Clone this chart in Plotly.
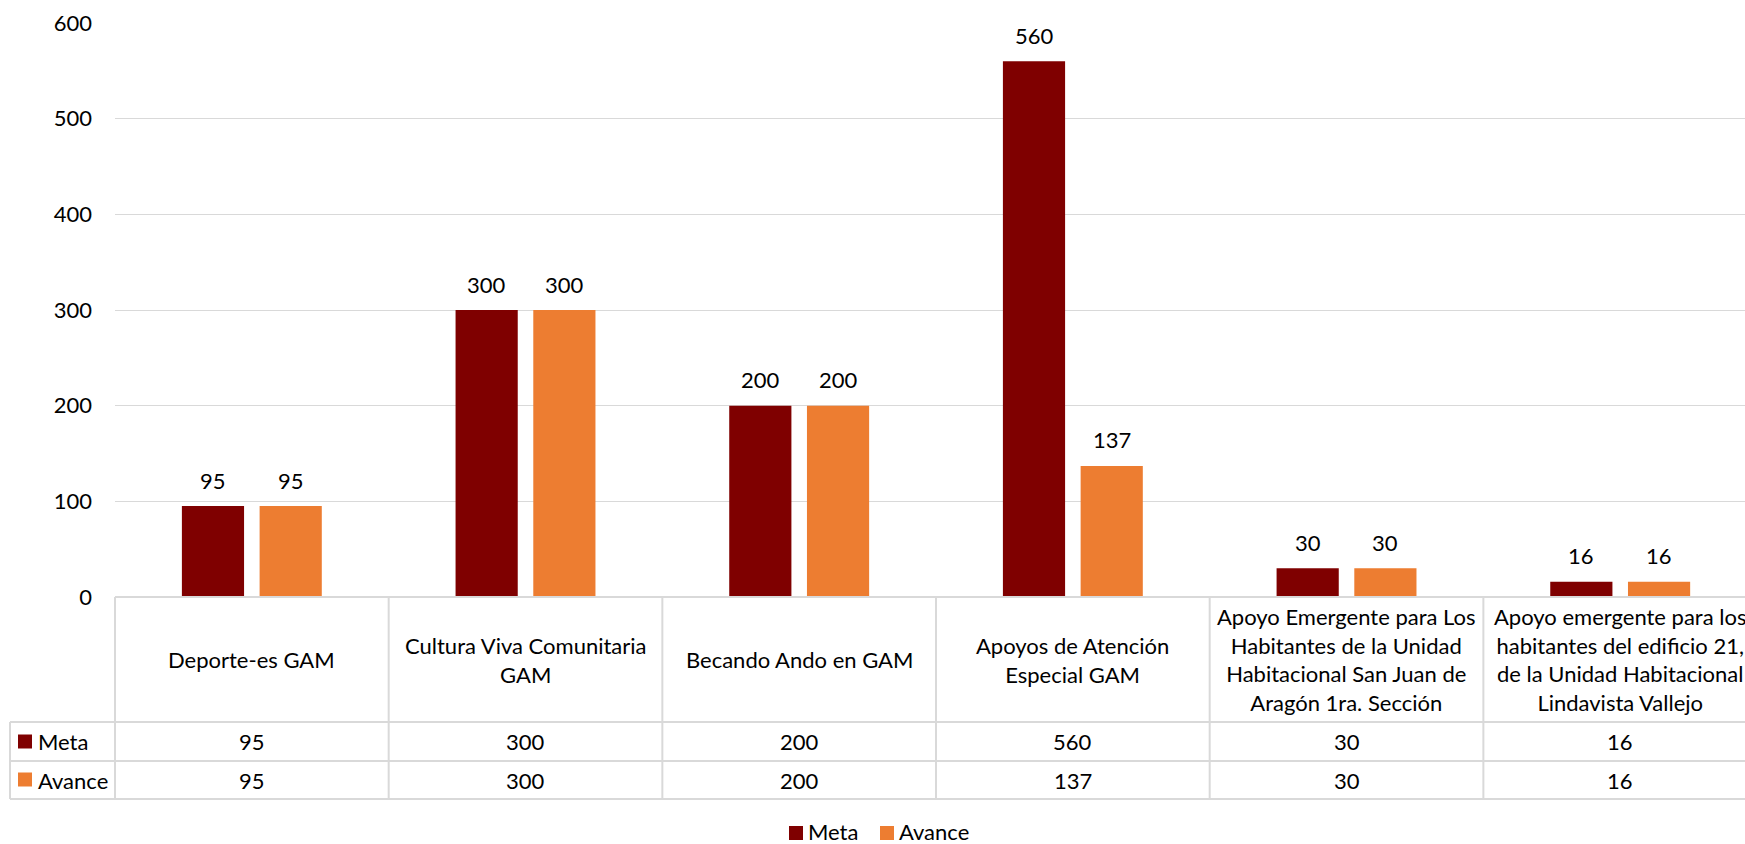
import plotly.graph_objects as go

categories = [
    "Deporte-es GAM",
    "Cultura Viva Comunitaria GAM",
    "Becando Ando en GAM",
    "Apoyos de Atención Especial GAM",
    "Apoyo Emergente para Los Habitantes de la Unidad Habitacional San Juan de Aragón 1ra. Sección",
    "Apoyo emergente para los habitantes del edificio 21, de la Unidad Habitacional Lindavista Vallejo",
]
header_labels = [
    "Deporte-es GAM",
    "Cultura Viva Comunitaria<br>GAM",
    "Becando Ando en GAM",
    "Apoyos de Atención<br>Especial GAM",
    "Apoyo Emergente para Los<br>Habitantes de la Unidad<br>Habitacional San Juan de<br>Aragón 1ra. Sección",
    "Apoyo emergente para los<br>habitantes del edificio 21,<br>de la Unidad Habitacional<br>Lindavista Vallejo",
]
series_names = ["Meta", "Avance"]
meta = [95, 300, 200, 560, 30, 16]
avance = [95, 300, 200, 137, 30, 16]
y_ticks = [0, 100, 200, 300, 400, 500, 600]

COL_META = "#7F0000"
COL_AV = "#ED7D31"
GRID = "#D9D9D9"
FONT = "Lato"
FS = 22

W, H = 1745, 844
L, T, B = 115, 23, 247
PW = W - L
PH = H - T - B
Y0PIX = T + PH


def py(ypix):
    return (Y0PIX - ypix) / PH


def px(xpix):
    return (xpix - L) / PW


fig = go.Figure()
fig.add_trace(go.Bar(name=series_names[0], x=categories, y=meta, marker_color=COL_META,
                     marker_line_width=0))
fig.add_trace(go.Bar(name=series_names[1], x=categories, y=avance, marker_color=COL_AV,
                     marker_line_width=0))

bargap = 0.432
bargroupgap = 0.2
half = (1 - bargap) / 4  # center offset of each bar in a pair

txtfont = dict(size=FS, color="#000000", family=FONT)
annotations = []
for i in range(len(categories)):
    for val, off in ((meta[i], -half), (avance[i], half)):
        annotations.append(dict(x=i + off, y=val, xref="x", yref="y", text=str(val),
                                showarrow=False, yanchor="middle", yshift=26, font=txtfont))

# table: header labels and values
hdr_y = py(659.5)
meta_y = py(741.5)
av_y = py(780)
for i in range(len(categories)):
    annotations.append(dict(x=i, y=hdr_y, xref="x", yref="paper", text=header_labels[i],
                            showarrow=False, yanchor="middle", align="center", font=txtfont))
    annotations.append(dict(x=i, y=meta_y, xref="x", yref="paper", text=str(meta[i]),
                            showarrow=False, yanchor="middle", font=txtfont))
    annotations.append(dict(x=i, y=av_y, xref="x", yref="paper", text=str(avance[i]),
                            showarrow=False, yanchor="middle", font=txtfont))

annotations.append(dict(x=px(36), y=meta_y, xref="paper", yref="paper", text=series_names[0],
                        showarrow=False, xanchor="left", yanchor="middle", font=txtfont))
annotations.append(dict(x=px(36), y=av_y, xref="paper", yref="paper", text=series_names[1],
                        showarrow=False, xanchor="left", yanchor="middle", font=txtfont))

# bottom legend
leg_y = py(831)
annotations.append(dict(x=px(807), y=leg_y, xref="paper", yref="paper", text=series_names[0],
                        showarrow=False, xanchor="left", yanchor="middle", font=txtfont,
                        borderpad=0))
annotations.append(dict(x=px(898), y=leg_y, xref="paper", yref="paper", text=series_names[1],
                        showarrow=False, xanchor="left", yanchor="middle", font=txtfont,
                        borderpad=0))

shapes = []
lw = 2
# horizontal lines
shapes.append(dict(type="line", xref="paper", yref="paper", x0=0, x1=1.02, y0=0, y1=0,
                   line=dict(color=GRID, width=lw)))
for ypix in (722, 761, 799):
    shapes.append(dict(type="line", xref="paper", yref="paper", x0=px(10), x1=1.02,
                       y0=py(ypix), y1=py(ypix), line=dict(color=GRID, width=lw)))
# vertical lines
shapes.append(dict(type="line", xref="paper", yref="paper", x0=px(10), x1=px(10),
                   y0=py(722), y1=py(799), line=dict(color=GRID, width=lw)))
shapes.append(dict(type="line", xref="paper", yref="paper", x0=0, x1=0,
                   y0=0, y1=py(799), line=dict(color=GRID, width=lw)))
for i in range(1, len(categories)):
    shapes.append(dict(type="line", xref="x", yref="paper", x0=i - 0.5, x1=i - 0.5,
                       y0=0, y1=py(799), line=dict(color=GRID, width=lw)))
# legend keys in table
shapes.append(dict(type="rect", xref="paper", yref="paper", x0=px(18), x1=px(32),
                   y0=py(734.5), y1=py(748.5), fillcolor=COL_META, line=dict(width=0)))
shapes.append(dict(type="rect", xref="paper", yref="paper", x0=px(18), x1=px(32),
                   y0=py(772.5), y1=py(786.5), fillcolor=COL_AV, line=dict(width=0)))
# bottom legend keys
shapes.append(dict(type="rect", xref="paper", yref="paper", x0=px(789), x1=px(803),
                   y0=py(826), y1=py(840), fillcolor=COL_META, line=dict(width=0)))
shapes.append(dict(type="rect", xref="paper", yref="paper", x0=px(880), x1=px(894),
                   y0=py(826), y1=py(840), fillcolor=COL_AV, line=dict(width=0)))

fig.update_layout(
    width=W, height=H,
    margin=dict(l=L, r=0, t=T, b=B, pad=0),
    barmode="group", bargap=bargap, bargroupgap=bargroupgap,
    plot_bgcolor="white", paper_bgcolor="white",
    font=dict(family=FONT, size=FS, color="#000000"),
    showlegend=False,
    annotations=annotations,
    shapes=shapes,
)
fig.update_xaxes(range=[-0.5, 5.456], showticklabels=False, showgrid=False,
                 showline=False, zeroline=False, ticks="")
fig.update_yaxes(range=[0, 600], tickvals=y_ticks, showgrid=True, gridcolor=GRID,
                 gridwidth=1.3, zeroline=False, showline=False, ticks="",
                 ticklabelstandoff=22, tickfont=txtfont)

fig.write_html("out.html", config={"displayModeBar": False},
               post_script="document.body.style.margin='0';")
